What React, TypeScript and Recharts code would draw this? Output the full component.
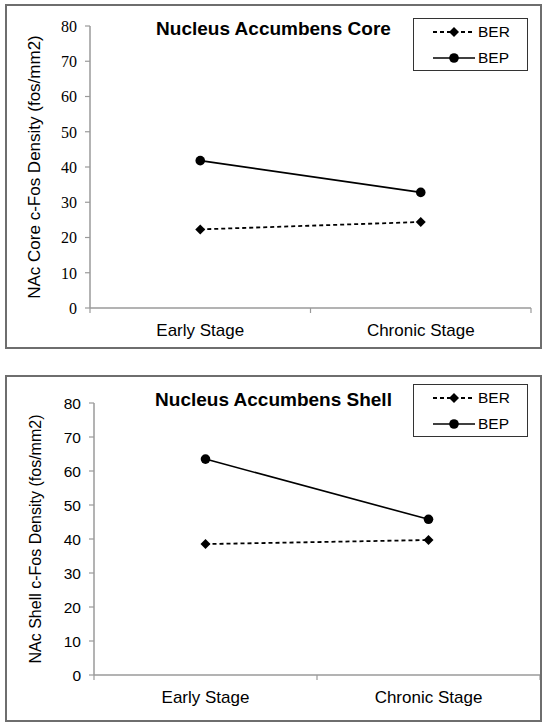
import { Legend, Line, LineChart, XAxis, YAxis } from "recharts";

const stages = ["Early Stage", "Chronic Stage"];
const coreBER = [22.3, 24.4];
const coreBEP = [41.8, 32.8];
const shellBER = [38.5, 39.7];
const shellBEP = [63.5, 45.8];
const yTicks = [0, 10, 20, 30, 40, 50, 60, 70, 80];
const seriesNames = ["BER", "BEP"];

const AXIS = "#9a9a9a";
const SANS = "'Liberation Sans', Arial, sans-serif";
const SERIF = "'Liberation Serif', 'Times New Roman', serif";

const Diamond = (props: any) => {
  const { cx, cy, index } = props;
  if (cx == null || cy == null) return <g key={index} />;
  return (
    <polygon
      key={index}
      points={`${cx},${cy - 5} ${cx + 5},${cy} ${cx},${cy + 5} ${cx - 5},${cy}`}
      fill="#000"
    />
  );
};

const makeXTick = (band: number, count: number) => (props: any) => {
  const { x, y, payload, index } = props;
  return (
    <g>
      <line x1={x - band / 2} x2={x - band / 2} y1={y} y2={y + 5} stroke={AXIS} strokeWidth={1.2} />
      {index === count - 1 && (
        <line x1={x + band / 2} x2={x + band / 2} y1={y} y2={y + 5} stroke={AXIS} strokeWidth={1.2} />
      )}
      <text x={x} y={y + 28} textAnchor="middle" fontFamily={SANS} fontSize={17} fill="#000">
        {payload.value}
      </text>
    </g>
  );
};

const makeYTick = (font: string, size: number) => (props: any) => {
  const { x, y, payload } = props;
  return (
    <text x={x} y={y} dy="0.36em" textAnchor="end" style={{ fontFamily: font }} fontSize={size} fill="#000">
      {payload.value}
    </text>
  );
};

const LegendBox = (props: any) => {
  const { payload } = props;
  const rows = seriesNames
    .map((n) => (payload || []).find((p: any) => p.value === n))
    .filter(Boolean);
  return (
    <div
      style={{
        position: "relative",
        width: 115,
        height: 53,
        border: "1.5px solid #333",
        boxSizing: "border-box",
        background: "#fff",
      }}
    >
      {rows.map((p: any, i: number) => (
        <div key={p.value} style={{ position: "absolute", left: 0, top: 13 + i * 26 - 10, height: 20, width: 113 }}>
          <svg width={42} height={20} style={{ position: "absolute", left: 19, top: 0 }}>
            <line
              x1={0}
              x2={42}
              y1={10}
              y2={10}
              stroke="#000"
              strokeWidth={p.value === "BER" ? 1.8 : 1.6}
              strokeDasharray={p.value === "BER" ? "4 3" : undefined}
            />
            {p.value === "BER" ? (
              <polygon points="21,5 26,10 21,15 16,10" fill="#000" />
            ) : (
              <circle cx={21} cy={10} r={4.8} fill="#000" />
            )}
          </svg>
          <span
            style={{
              position: "absolute",
              left: 64,
              top: 0,
              lineHeight: "20px",
              fontFamily: SANS,
              fontSize: 15.5,
              color: "#000",
            }}
          >
            {p.value}
          </span>
        </div>
      ))}
    </div>
  );
};

type PanelProps = {
  top: number;
  height: number;
  title: string;
  yLabel: string;
  ber: number[];
  bep: number[];
  marginTop: number;
  marginRight: number;
  yWidth: number;
  xHeight: number;
  tickFont: string;
  tickSizeFont: number;
  labelFont: number;
  labelOffset: number;
  legendTop: number;
};

const Panel = (p: PanelProps) => {
  const width = 537;
  const data = stages.map((stage, i) => ({ stage, BER: p.ber[i], BEP: p.bep[i] }));
  const plotWidth = width - 10 - p.yWidth - p.marginRight;
  const band = plotWidth / stages.length;
  return (
    <div style={{ position: "absolute", left: 5, top: p.top, width, height: p.height }}>
      <LineChart
        width={width}
        height={p.height}
        data={data}
        margin={{ top: p.marginTop, right: p.marginRight, bottom: 0, left: 10 }}
      >
        <XAxis
          dataKey="stage"
          scale="band"
          height={p.xHeight}
          axisLine={{ stroke: AXIS, strokeWidth: 1.5 }}
          tickLine={false}
          tickSize={0}
          tickMargin={0}
          interval={0}
          tick={makeXTick(band, stages.length)}
        />
        <YAxis
          width={p.yWidth}
          domain={[0, 80]}
          ticks={yTicks}
          interval={0}
          axisLine={{ stroke: AXIS, strokeWidth: 1.5 }}
          tickLine={{ stroke: AXIS, strokeWidth: 1.2 }}
          tickSize={5}
          tickMargin={8}
          tick={makeYTick(p.tickFont, p.tickSizeFont)}
          label={{
            value: p.yLabel,
            angle: -90,
            position: "insideLeft",
            offset: p.labelOffset,
            style: { textAnchor: "middle", fontFamily: SANS, fontSize: p.labelFont, fill: "#000" },
          }}
        />
        <Legend
          layout="vertical"
          align="center"
          verticalAlign="middle"
          content={<LegendBox />}
          wrapperStyle={{ position: "absolute", left: 408, top: p.legendTop, width: 115, height: 53 }}
        />
        <Line
          dataKey="BER"
          name="BER"
          stroke="#000"
          strokeWidth={1.8}
          strokeDasharray="4 3"
          dot={Diamond}
          activeDot={false}
          isAnimationActive={false}
        />
        <Line
          dataKey="BEP"
          name="BEP"
          stroke="#000"
          strokeWidth={1.6}
          dot={{ r: 4.8, fill: "#000", stroke: "#000", strokeWidth: 0 }}
          activeDot={false}
          isAnimationActive={false}
        />
      </LineChart>
      <div
        style={{
          position: "absolute",
          left: 0,
          top: 15,
          width,
          textAlign: "center",
          fontFamily: SANS,
          fontWeight: "bold",
          fontSize: 19,
          lineHeight: "19px",
          color: "#000",
        }}
      >
        {p.title}
      </div>
      <div
        style={{
          position: "absolute",
          left: 0,
          top: 0,
          width,
          height: p.height,
          border: "2px solid #6e6e6e",
          boxSizing: "border-box",
          pointerEvents: "none",
        }}
      />
    </div>
  );
};

export default function App() {
  return (
    <div style={{ position: "absolute", left: 0, top: 0, width: 548, height: 726, background: "#fff" }}>
      <Panel
        top={4}
        height={345}
        title="Nucleus Accumbens Core"
        yLabel="NAc Core c-Fos Density (fos/mm2)"
        ber={coreBER}
        bep={coreBEP}
        marginTop={22}
        marginRight={11}
        yWidth={75}
        xHeight={41}
        tickFont={SERIF}
        tickSizeFont={16}
        labelFont={17}
        labelOffset={19}
        legendTop={14}
      />
      <Panel
        top={375}
        height={347}
        title="Nucleus Accumbens Shell"
        yLabel="NAc Shell c-Fos Density (fos/mm2)"
        ber={shellBER}
        bep={shellBEP}
        marginTop={28}
        marginRight={2}
        yWidth={79}
        xHeight={47}
        tickFont={SANS}
        tickSizeFont={15.5}
        labelFont={16}
        labelOffset={20}
        legendTop={9}
      />
    </div>
  );
}
